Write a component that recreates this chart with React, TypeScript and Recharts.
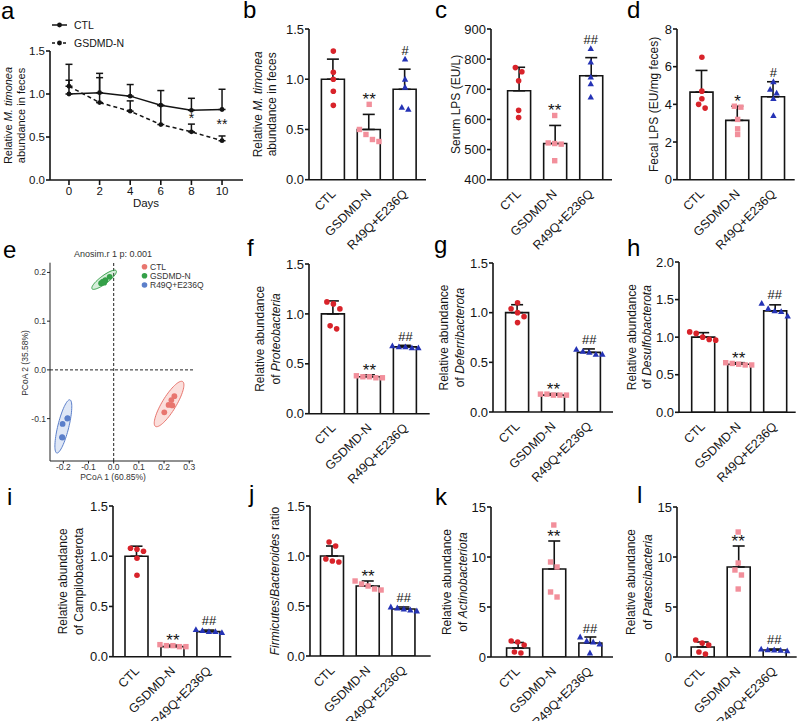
import React from "react";
import {
  Bar,
  ComposedChart,
  Customized,
  ErrorBar,
  Line,
  ReferenceLine,
  Scatter,
  ScatterChart,
  XAxis,
  YAxis,
} from "recharts";

const FONT = '"Liberation Sans", Arial, Helvetica, sans-serif';
const INK = "#141414";
const RED = "#d8232a";
const PINK = "#f28f9b";
const BLUE = "#2533b5";

const groups = ["CTL", "GSDMD-N", "R49Q+E236Q"];

// a: relative M. timonea over time
const days = [0, 2, 4, 6, 8, 10];
const aCtlMean = [1.0, 1.015, 0.975, 0.87, 0.81, 0.82];
const aCtlSd = [0.345, 0.225, 0.135, 0.17, 0.14, 0.235];
const aGsdMean = [1.09, 0.9, 0.8, 0.645, 0.56, 0.457];
const aGsdSd = [0.07, 0.29, 0.12, 0.22, 0.09, 0.055];
const aMarks = ["", "", "", "", "*", "**"];

// b
const bMean = [1.0, 0.5, 0.9];
const bSd = [0.2, 0.15, 0.2];
const bPts = [[1.28, 1.07, 1.0, 0.88, 0.74], [0.75, 0.5, 0.45, 0.4, 0.38], [1.2, 1.0, 0.92, 0.72, 0.7]];
const bMarks = ["", "**", "#"];

// c
const cMean = [695, 520, 745];
const cSd = [78, 60, 60];
const cPts = [[772, 758, 728, 630, 606], [613, 522, 520, 518, 463], [835, 790, 740, 718, 674]];
const cMarks = ["", "**", "##"];

// d
const dMean = [4.65, 3.15, 4.4];
const dSd = [1.15, 0.75, 0.8];
const dPts = [[6.5, 4.7, 4.3, 4.0, 3.8], [3.9, 3.85, 3.2, 2.7, 2.4], [5.2, 4.8, 4.6, 4.3, 3.4]];
const dMarks = ["", "*", "#"];

// f
const fMean = [1.0, 0.37, 0.67];
const fSd = [0.13, 0.02, 0.015];
const fPts = [[1.12, 1.1, 1.05, 0.88, 0.85], [0.38, 0.37, 0.37, 0.36, 0.36], [0.68, 0.67, 0.67, 0.66, 0.66]];
const fMarks = ["", "**", "##"];

// g
const gMean = [1.0, 0.17, 0.6];
const gSd = [0.08, 0.015, 0.035];
const gPts = [[1.1, 1.04, 1.0, 0.96, 0.9], [0.18, 0.18, 0.17, 0.17, 0.17], [0.63, 0.61, 0.6, 0.58, 0.58]];
const gMarks = ["", "**", "##"];

// h
const hMean = [1.0, 0.64, 1.35];
const hSd = [0.06, 0.02, 0.08];
const hPts = [[1.07, 1.05, 1.0, 0.97, 0.96], [0.66, 0.65, 0.64, 0.63, 0.63], [1.45, 1.38, 1.35, 1.34, 1.28]];
const hMarks = ["", "**", "##"];

// i
const iMean = [1.0, 0.1, 0.25];
const iSd = [0.1, 0.015, 0.015];
const iPts = [[1.08, 1.07, 1.05, 0.98, 0.81], [0.12, 0.11, 0.11, 0.1, 0.1], [0.27, 0.26, 0.25, 0.25, 0.24]];
const iMarks = ["", "**", "##"];

// j
const jMean = [1.0, 0.7, 0.47];
const jSd = [0.1, 0.05, 0.02];
const jPts = [[1.14, 1.1, 0.97, 0.95, 0.94], [0.75, 0.72, 0.7, 0.67, 0.66], [0.49, 0.48, 0.47, 0.46, 0.45]];
const jMarks = ["", "**", "##"];

// k
const kMean = [0.9, 8.8, 1.4];
const kSd = [0.55, 2.8, 0.6];
const kPts = [[1.6, 1.5, 1.2, 0.5, 0.4], [13.2, 9.5, 9.0, 6.5, 6.0], [2.0, 1.6, 1.5, 1.3, 0.4]];
const kMarks = ["", "**", "##"];

// l
const lMean = [1.0, 9.0, 0.7];
const lSd = [0.5, 2.1, 0.1];
const lPts = [[1.7, 1.4, 1.2, 0.5, 0.3], [12.5, 9.4, 8.7, 8.2, 6.8], [0.78, 0.72, 0.7, 0.66, 0.62]];
const lMarks = ["", "**", "##"];

// e: PCoA
const pcoaCtl = [[0.241, -0.054], [0.229, -0.062], [0.218, -0.072], [0.233, -0.073], [0.201, -0.087]];
const pcoaGsd = [[-0.05, 0.178], [-0.043, 0.181], [-0.033, 0.184], [-0.016, 0.191], [-0.038, 0.179]];
const pcoaR49 = [[-0.183, -0.099], [-0.203, -0.111], [-0.205, -0.138], [-0.184, -0.1], [-0.204, -0.139]];
const ellCenter = [[0.22, -0.07], [-0.038, 0.185], [-0.2, -0.116]];
const ellMajor = [[0.054, 0.046], [0.048, 0.0186], [0.026, 0.0546]];
const ellMinor = [[0.0236, -0.0076], [0.0096, -0.0066], [0.0212, -0.0027]];

type Seg = { t: string; i?: boolean };

// spread points that would overlap horizontally, like a prism scatter-dot plot
function spread(vals: number[], ppu: number) {
  const order = vals.map((_, i) => i).sort((a, b) => vals[b] - vals[a]);
  const off = vals.map(() => 0);
  let cluster = [order[0]];
  const flush = () => cluster.forEach((idx, k) => (off[idx] = (k - (cluster.length - 1) / 2) * 6.5));
  for (let k = 1; k < order.length; k++) {
    if ((vals[order[k - 1]] - vals[order[k]]) * ppu < 5.5) cluster.push(order[k]);
    else {
      flush();
      cluster = [order[k]];
    }
  }
  flush();
  return off;
}

const Dot = (p: any) => <circle cx={p.cx} cy={p.cy} r={2.8} fill={RED} />;
const Sq = (p: any) => <rect x={p.cx - 2.7} y={p.cy - 2.7} width={5.4} height={5.4} fill={PINK} />;
const Tri = (p: any) => (
  <polygon points={`${p.cx},${p.cy - 3.4} ${p.cx + 3.2},${p.cy + 2.4} ${p.cx - 3.2},${p.cy + 2.4}`} fill={BLUE} />
);
const shapes = [Dot, Sq, Tri];

const MarkShape = (p: any) => {
  const star = p.payload.mark.includes("*");
  return (
    <text x={p.cx} y={star ? p.cy + 1 : p.cy - 4.5} textAnchor="middle" fontSize={star ? 17 : 13}
      fontFamily={FONT} fill={INK}>
      {p.payload.mark}
    </text>
  );
};

function CatTick(props: any) {
  const { x, y, payload } = props;
  const px = x + 3;
  const py = y + 15;
  return (
    <text x={px} y={py} textAnchor="end" transform={`rotate(-45 ${px} ${py})`} fontSize={12.5}
      fontFamily={FONT} fill={INK}>
      {payload.value}
    </text>
  );
}

function YLabel({ lines, xs, cy, size }: { lines: Seg[][]; xs: number[]; cy: number; size: number }) {
  return (
    <g>
      {lines.map((segs, li) => (
        <text key={li} x={xs[li]} y={cy} transform={`rotate(-90 ${xs[li]} ${cy})`} textAnchor="middle"
          dominantBaseline="central" fontSize={size} fontFamily={FONT} fill={INK}>
          {segs.map((s, k) => (
            <tspan key={k} fontStyle={s.i ? "italic" : undefined}>{s.t}</tspan>
          ))}
        </text>
      ))}
    </g>
  );
}

type Panel = {
  x: number; top: number; bottom: number; end: number; padL: number; padR: number;
  domain: [number, number]; ticks: number[]; digits: number;
  mean: number[]; sd: number[]; pts: number[][]; marks: string[];
  label: Seg[][]; labelX: number[];
};

function BarPanel({ p }: { p: Panel }) {
  const AXW = 100;
  const TOPM = 30;
  const XH = 80;
  const left = p.x - AXW;
  const top0 = p.top - TOPM;
  const width = p.end - left;
  const height = p.bottom - top0 + XH;
  const ppu = (p.bottom - p.top) / (p.domain[1] - p.domain[0]);
  const band = (p.end - p.x - p.padL - p.padR) / 3;
  const rows = groups.map((name, i) => ({ name, mean: p.mean[i], err: [0, p.sd[i]] }));
  const dots = groups.map((_, i) => {
    const off = spread(p.pts[i], ppu);
    return p.pts[i].map((v, k) => ({ x: i + off[k] / band, y: v }));
  });
  const marks = groups
    .map((_, i) => {
      const cap = p.mean[i] + p.sd[i];
      const hi = Math.max(...p.pts[i]);
      const y = (hi - cap) * ppu < 12 ? Math.max(cap, hi) : cap;
      return { x: i, y, mark: p.marks[i] };
    })
    .filter((m) => m.mark);
  const axisStroke = { stroke: INK, strokeWidth: 1.6 };

  return (
    <div style={{ position: "absolute", left, top: top0 }}>
      <ComposedChart width={width} height={height} data={rows} margin={{ top: TOPM, right: 0, bottom: 0, left: 0 }}>
        <XAxis xAxisId="cat" dataKey="name" height={XH} interval={0} padding={{ left: p.padL, right: p.padR }}
          tickLine={false} tickSize={0} tickMargin={0} axisLine={axisStroke} tick={<CatTick />} />
        <XAxis xAxisId="num" type="number" dataKey="x" domain={[-0.5, 2.5]} allowDataOverflow hide
          padding={{ left: p.padL, right: p.padR }} />
        <YAxis width={AXW} domain={p.domain} ticks={p.ticks} allowDataOverflow interval={0}
          tickFormatter={(v: number) => v.toFixed(p.digits)} tickSize={4} tickMargin={1}
          axisLine={axisStroke} tickLine={axisStroke} tick={{ fontSize: 13, fill: INK, fontFamily: FONT }} />
        <Bar xAxisId="cat" dataKey="mean" barSize={23} fill="#fff" stroke={INK} strokeWidth={1.6}
          isAnimationActive={false}>
          <ErrorBar dataKey="err" direction="y" width={6} stroke={INK} strokeWidth={1.6} />
        </Bar>
        {dots.map((d, i) => (
          <Scatter key={i} xAxisId="num" data={d} dataKey="y" shape={shapes[i]} isAnimationActive={false} />
        ))}
        <Scatter xAxisId="num" data={marks} dataKey="y" shape={MarkShape} isAnimationActive={false} />
        <Customized component={<YLabel lines={p.label} xs={p.labelX.map((v) => v - left)}
          cy={(p.top + p.bottom) / 2 - top0} size={12} />} />
      </ComposedChart>
    </div>
  );
}

function TimeText() {
  return (
    <g fontFamily={FONT} fill={INK}>
      <YLabel lines={[[{ t: "Relative " }, { t: "M. timonea", i: true }], [{ t: "abundance in feces" }]]}
        xs={[7.5, 20.5]} cy={115.5} size={11} />
      <text x={146} y={207} textAnchor="middle" fontSize={11.5}>Days</text>
      <line x1={52} x2={67} y1={25} y2={25} stroke={INK} strokeWidth={1.5} />
      <circle cx={59.5} cy={25} r={2.4} fill={INK} />
      <text x={74} y={28.8} fontSize={10.5}>CTL</text>
      <line x1={52} x2={67} y1={43} y2={43} stroke={INK} strokeWidth={1.5} strokeDasharray="3 2.5" />
      <circle cx={59.5} cy={43} r={2.4} fill={INK} />
      <text x={74} y={46.8} fontSize={10.5}>GSDMD-N</text>
    </g>
  );
}

const AMark = (p: any) => (
  <text x={p.cx} y={p.cy + 6} textAnchor="middle" fontSize={14} fontFamily={FONT} fill={INK}>
    {p.payload.mark}
  </text>
);

function TimePanel() {
  const rows = days.map((day, i) => ({
    day,
    ctl: aCtlMean[i],
    ctlErr: [0, aCtlSd[i]],
    gsd: aGsdMean[i],
    gsdErr: [0, aGsdSd[i]],
  }));
  const marks = days
    .map((day, i) => ({ day, y: (aCtlMean[i] + aGsdMean[i] + aGsdSd[i]) / 2, mark: aMarks[i] }))
    .filter((m) => m.mark);
  const axisStroke = { stroke: INK, strokeWidth: 1.6 };
  return (
    <div style={{ position: "absolute", left: 0, top: 0 }}>
      <ComposedChart width={243} height={220} data={rows} margin={{ top: 51, right: 0, bottom: 0, left: 0 }}>
        <XAxis type="number" dataKey="day" domain={[-1.24, 11.37]} ticks={days} interval={0} allowDataOverflow
          height={40} tickSize={5} tickMargin={2} axisLine={axisStroke} tickLine={axisStroke}
          tick={{ fontSize: 11.5, fill: INK, fontFamily: FONT }} />
        <YAxis width={50} domain={[0, 1.5]} ticks={[0, 0.5, 1, 1.5]} allowDataOverflow interval={0}
          tickFormatter={(v: number) => v.toFixed(1)} tickSize={4} tickMargin={1} axisLine={axisStroke}
          tickLine={axisStroke} tick={{ fontSize: 11.5, fill: INK, fontFamily: FONT }} />
        <Line dataKey="ctl" stroke={INK} strokeWidth={1.5} dot={{ r: 2.4, fill: INK, stroke: "none" }}
          isAnimationActive={false}>
          <ErrorBar dataKey="ctlErr" direction="y" width={3.5} stroke={INK} strokeWidth={1.5} />
        </Line>
        <Line dataKey="gsd" stroke={INK} strokeWidth={1.5} strokeDasharray="4 3"
          dot={{ r: 2.4, fill: INK, stroke: "none" }} isAnimationActive={false}>
          <ErrorBar dataKey="gsdErr" direction="y" width={3.5} stroke={INK} strokeWidth={1.5} />
        </Line>
        <Scatter data={marks} dataKey="y" shape={AMark} isAnimationActive={false} />
        <Customized component={<TimeText />} />
      </ComposedChart>
    </div>
  );
}

const PCOA_COLORS = ["#e8766f", "#34a048", "#5b7fca"];
const PCOA_FILL = ["rgba(240,140,130,0.28)", "rgba(70,175,85,0.22)", "rgba(110,145,215,0.22)"];

function ellipse(c: number[], a: number[], b: number[]) {
  const out = [];
  for (let k = 0; k <= 72; k++) {
    const t = (k / 72) * Math.PI * 2;
    out.push({ x: c[0] + a[0] * Math.cos(t) + b[0] * Math.sin(t), y: c[1] + a[1] * Math.cos(t) + b[1] * Math.sin(t) });
  }
  return out;
}

function PcoaText() {
  const ys = [26.7, 35.7, 45];
  return (
    <g fontFamily={FONT} fill="#333">
      <text x={113} y={17} textAnchor="middle" fontSize={9}>Anosim.r 1 p: 0.001</text>
      {groups.map((g, i) => (
        <g key={g}>
          <circle cx={144.5} cy={ys[i]} r={2.8} fill={PCOA_COLORS[i]} />
          <text x={150} y={ys[i] + 3} fontSize={8.5}>{g}</text>
        </g>
      ))}
      <text x={113} y={239.5} textAnchor="middle" fontSize={8.5}>PCoA 1 (60.85%)</text>
      <text x={25} y={123} textAnchor="middle" dominantBaseline="central" fontSize={8.5}
        transform="rotate(-90 25 123)">PCoA 2 (35.58%)</text>
    </g>
  );
}

function PcoaPanel() {
  const sets = [pcoaCtl, pcoaGsd, pcoaR49].map((arr) => arr.map(([x, y]) => ({ x, y })));
  const ells = ellCenter.map((c, i) => ellipse(c, ellMajor[i], ellMinor[i]));
  const axisStroke = { stroke: "#222", strokeWidth: 1 };
  const tick = { fontSize: 8.5, fill: "#333", fontFamily: FONT };
  return (
    <div style={{ position: "absolute", left: 0, top: 240 }}>
      <ScatterChart width={215} height={249} margin={{ top: 22.7, right: 22, bottom: 0, left: 0 }}>
        <XAxis type="number" dataKey="x" domain={[-0.253, 0.315]} ticks={[-0.2, -0.1, 0, 0.1, 0.2, 0.3]}
          allowDataOverflow interval={0} tickFormatter={(v: number) => v.toFixed(1)} height={28} tickSize={2.5}
          tickMargin={0} axisLine={axisStroke} tickLine={axisStroke} tick={tick} />
        <YAxis type="number" dataKey="y" domain={[-0.187, 0.22]} ticks={[-0.1, 0, 0.1, 0.2]} allowDataOverflow
          interval={0} tickFormatter={(v: number) => v.toFixed(1)} width={50} tickSize={3} tickMargin={1}
          axisLine={axisStroke} tickLine={axisStroke} tick={tick} />
        <ReferenceLine x={0} stroke="#222" strokeDasharray="3 2" />
        <ReferenceLine y={0} stroke="#222" strokeDasharray="3 2" />
        {ells.map((d, i) => (
          <Scatter key={`e${i}`} data={d} shape={() => <g />} isAnimationActive={false}
            line={(lp: any) => (
              <path d={"M" + lp.points.map((q: any) => `${q.x},${q.y}`).join("L") + "Z"}
                fill={PCOA_FILL[i]} stroke={PCOA_COLORS[i]} strokeWidth={1} />
            )} />
        ))}
        {sets.map((d, i) => (
          <Scatter key={`p${i}`} data={d} isAnimationActive={false}
            shape={(p: any) => <circle cx={p.cx} cy={p.cy} r={2.9} fill={PCOA_COLORS[i]} />} />
        ))}
        <Customized component={<PcoaText />} />
      </ScatterChart>
    </div>
  );
}

const rel = (name: string, italic = true): Seg[][] => [
  [{ t: "Relative abundance" }],
  [{ t: "of " }, { t: name, i: italic }],
];

const panels: Panel[] = [
  { x: 309, top: 29.3, bottom: 180, end: 426, padL: 6.4, padR: 3, domain: [0, 1.5], ticks: [0, 0.5, 1, 1.5], digits: 1,
    mean: bMean, sd: bSd, pts: bPts, marks: bMarks,
    label: [[{ t: "Relative " }, { t: "M. timonea", i: true }], [{ t: "abundance in feces" }]], labelX: [258.3, 271.7] },
  { x: 490.7, top: 29.3, bottom: 180, end: 612, padL: 9.6, padR: 3.5, domain: [400, 900],
    ticks: [400, 500, 600, 700, 800, 900], digits: 0, mean: cMean, sd: cSd, pts: cPts, marks: cMarks,
    label: [[{ t: "Serum LPS (EU/L)" }]], labelX: [455.7] },
  { x: 677.3, top: 29.3, bottom: 180, end: 795, padL: 7, padR: 3.4, domain: [0, 8], ticks: [0, 2, 4, 6, 8], digits: 0,
    mean: dMean, sd: dSd, pts: dPts, marks: dMarks, label: [[{ t: "Fecal LPS (EU/mg feces)" }]], labelX: [654.3] },
  { x: 309.3, top: 264.3, bottom: 414, end: 430, padL: 6.4, padR: 6.3, domain: [0, 1.5], ticks: [0, 0.5, 1, 1.5],
    digits: 1, mean: fMean, sd: fSd, pts: fPts, marks: fMarks, label: rel("Proteobacteria"), labelX: [260, 276] },
  { x: 492.7, top: 262.7, bottom: 411.7, end: 613, padL: 6.6, padR: 6, domain: [0, 1.5], ticks: [0, 0.5, 1, 1.5],
    digits: 1, mean: gMean, sd: gSd, pts: gPts, marks: gMarks, label: rel("Deferribacterota"), labelX: [443.3, 460] },
  { x: 679.3, top: 261.7, bottom: 412, end: 796, padL: 5.7, padR: 3, domain: [0, 2], ticks: [0, 0.5, 1, 1.5, 2],
    digits: 1, mean: hMean, sd: hSd, pts: hPts, marks: hMarks, label: rel("Desulfobacterota"), labelX: [632.3, 647.7] },
  { x: 113.3, top: 506, bottom: 656.7, end: 231.7, padL: 6, padR: 4.5, domain: [0, 1.5], ticks: [0, 0.5, 1, 1.5],
    digits: 1, mean: iMean, sd: iSd, pts: iPts, marks: iMarks, label: rel("Campilobacterota", false),
    labelX: [63.3, 79.3] },
  { x: 310, top: 506, bottom: 656, end: 430.7, padL: 4.5, padR: 9, domain: [0, 1.5], ticks: [0, 0.5, 1, 1.5],
    digits: 1, mean: jMean, sd: jSd, pts: jPts, marks: jMarks,
    label: [[{ t: "Firmicutes", i: true }, { t: "/" }, { t: "Bacteroides", i: true }, { t: " ratio" }]], labelX: [275] },
  { x: 490.7, top: 506.7, bottom: 656.7, end: 612.7, padL: 8.6, padR: 5, domain: [0, 15], ticks: [0, 5, 10, 15],
    digits: 0, mean: kMean, sd: kSd, pts: kPts, marks: kMarks, label: rel("Actinobacteriota"), labelX: [446.7, 462.3] },
  { x: 677.3, top: 506.7, bottom: 656.7, end: 797, padL: 7.2, padR: 4.5, domain: [0, 15], ticks: [0, 5, 10, 15],
    digits: 0, mean: lMean, sd: lSd, pts: lPts, marks: lMarks, label: rel("Patescibacteria"), labelX: [631.7, 648.3] },
];

const letters: [string, number, number][] = [
  ["a", 1, 19], ["b", 243, 18], ["c", 435, 18], ["d", 627, 18],
  ["e", 3, 258], ["f", 247, 256], ["g", 434, 253], ["h", 627, 256],
  ["i", 7, 505], ["j", 249, 502], ["k", 435, 505], ["l", 637, 503],
];

export default function App() {
  return (
    <div style={{ position: "absolute", left: 0, top: 0, width: 800, height: 721, background: "#fff", overflow: "hidden" }}>
      <TimePanel />
      <PcoaPanel />
      {panels.map((p, i) => (
        <BarPanel key={i} p={p} />
      ))}
      {letters.map(([t, x, y]) => (
        <div key={t} style={{ position: "absolute", left: x, top: y - 20.3, fontFamily: FONT, fontSize: 24,
          lineHeight: "24px", color: "#000" }}>
          {t}
        </div>
      ))}
    </div>
  );
}
